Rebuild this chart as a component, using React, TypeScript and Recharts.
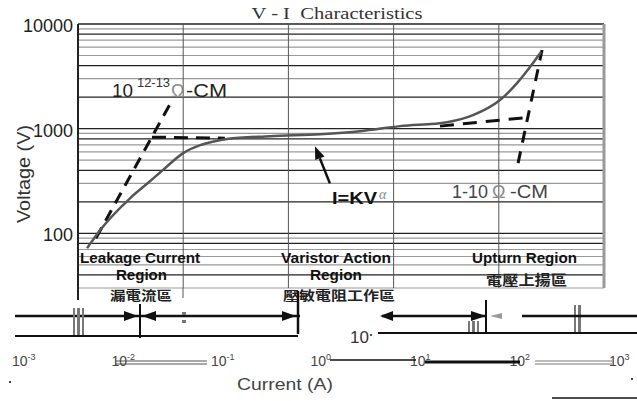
import { ComposedChart, Line, XAxis, YAxis, ReferenceLine } from "recharts";

// axis ticks and grid values
const voltTicks = [100, 1000, 10000];
const voltGrid = [
  30, 40, 50, 60, 70, 80, 90, 100, 200, 300, 400, 500, 600, 700, 800, 900, 1000,
  2000, 3000, 4000, 5000, 6000, 7000, 8000, 9000, 10000,
];
const currentGrid = [1e-5, 1e-4, 1e-3, 1e-2, 1e-1, 1];
const lowerTicks = [1e-3, 1e-2, 1e-1, 1, 10, 100, 1000];

// varistor V-I curve (solid)
const curveCurrent = [
  1.22e-5, 1.62e-5, 3.12e-5, 4.83e-5, 6.71e-5, 1.0e-4, 1.45e-4, 2.0e-4, 2.61e-4, 6.7e-4,
  2.0e-3, 4.8e-3, 0.0115, 0.0322, 0.0569, 0.1026, 0.149, 0.198, 0.252,
];
const curveVoltage = [
  72, 107, 216, 314, 419, 583, 695, 759, 795, 847, 886, 946, 1057, 1153, 1346, 1875, 2723,
  3881, 5396,
];

// dashed asymptotes
const leakCurrent = [1.48e-5, 7.49e-5];
const leakVoltage = [89.6, 1714];
const kneeCurrent = [5.05e-5, 2.49e-4];
const kneeVoltage = [829, 811];
const upturnCurrent = [0.1525, 0.2577];
const upturnVoltage = [468, 5641];
const bendCurrent = [0.0276, 0.198];
const bendVoltage = [1057, 1288];

// pointer from "I=KV^a" label to the curve
const pointerCurrent = [2.48e-3, 1.79e-3];
const pointerVoltage = [300, 680];

const zip = (xs: number[], ys: number[]) => xs.map((i, k) => ({ i, v: ys[k] }));

const SANS = "'Liberation Sans', Arial, sans-serif";
const CJK = "'Noto Sans CJK TC', 'Noto Sans CJK SC', sans-serif";

const sup = (n: number) => String(Math.round(Math.log10(n)));

const ArrowShape = (p: any) => {
  const { x1, y1, x2, y2 } = p;
  const ang = Math.atan2(y2 - y1, x2 - x1);
  const L = 13;
  const W = 5;
  const bx = x2 - L * Math.cos(ang);
  const by = y2 - L * Math.sin(ang);
  const px = -Math.sin(ang) * W;
  const py = Math.cos(ang) * W;
  return (
    <g>
      <line x1={x1} y1={y1} x2={bx} y2={by} stroke="#111" strokeWidth={2.5} />
      <polygon points={`${x2},${y2} ${bx + px},${by + py} ${bx - px},${by - py}`} fill="#111" />
    </g>
  );
};

const VoltTick = ({ x, y, payload }: any) => (
  <text x={x} y={y + 8} textAnchor="end" fontFamily={SANS} fontSize={18} fill="#222">
    {payload.value}
  </text>
);

const LowerTick = ({ x, y, payload }: any) => (
  <text x={x - 8} y={y + 36} fontFamily={SANS} fontSize={14} fill="#444">
    10
    <tspan dy={-6} fontSize={9}>
      {sup(payload.value)}
    </tspan>
  </text>
);

const isDark = (v: number) => {
  const m = Math.round(v / Math.pow(10, Math.floor(Math.log10(v) + 1e-9)));
  return [1, 2, 4, 8].includes(m);
};

export default function App() {
  return (
    <div style={{ position: "absolute", left: 0, top: 0, width: 637, height: 401, background: "#fff", overflow: "hidden" }}>
      <div style={{ position: "absolute", left: 0, top: 0 }}>
        <ComposedChart width={637} height={401} margin={{ top: 24, right: 33, bottom: 113, left: 18 }}>
          <XAxis dataKey="i" type="number" scale="log" domain={[1e-5, 1]} allowDataOverflow hide />
          <YAxis
            dataKey="v"
            type="number"
            scale="log"
            domain={[30, 10000]}
            allowDataOverflow
            ticks={voltTicks}
            width={60}
            axisLine={false}
            tickLine={false}
            tickSize={0}
            tickMargin={5}
            tick={<VoltTick />}
          />
          {voltGrid.map((v) => (
            <ReferenceLine
              key={"h" + v}
              y={v}
              stroke={isDark(v) ? "#222" : "#9a9a9a"}
              strokeWidth={isDark(v) ? 1.3 : 1.2}
            />
          ))}
          {currentGrid.map((c, k) => (
            <ReferenceLine
              key={"v" + c}
              x={c}
              stroke={k === 0 ? "#222" : k === currentGrid.length - 1 ? "#999" : "#555"}
              strokeWidth={k === 0 ? 2 : k === currentGrid.length - 1 ? 3 : 1}
            />
          ))}
          <Line data={zip(leakCurrent, leakVoltage)} dataKey="v" type="linear" stroke="#111" strokeWidth={3} strokeDasharray="12 8" dot={false} isAnimationActive={false} />
          <Line data={zip(kneeCurrent, kneeVoltage)} dataKey="v" type="linear" stroke="#111" strokeWidth={3} strokeDasharray="14 8" dot={false} isAnimationActive={false} />
          <Line data={zip(upturnCurrent, upturnVoltage)} dataKey="v" type="linear" stroke="#111" strokeWidth={3} strokeDasharray="12 9" dot={false} isAnimationActive={false} />
          <Line data={zip(bendCurrent, bendVoltage)} dataKey="v" type="linear" stroke="#111" strokeWidth={3} strokeDasharray="14 9" dot={false} isAnimationActive={false} />
          <Line data={zip(curveCurrent, curveVoltage)} dataKey="v" type="monotone" stroke="#555" strokeWidth={2.5} dot={false} isAnimationActive={false} />
          <ReferenceLine
            segment={[
              { x: pointerCurrent[0], y: pointerVoltage[0] },
              { x: pointerCurrent[1], y: pointerVoltage[1] },
            ]}
            shape={ArrowShape}
          />
        </ComposedChart>
      </div>

      <div style={{ position: "absolute", left: 0, top: 0 }}>
        <ComposedChart width={637} height={401} margin={{ top: 300, right: 20, bottom: 41, left: 20 }}>
          <XAxis
            dataKey="i"
            type="number"
            scale="log"
            domain={[1e-3, 1e3]}
            allowDataOverflow
            ticks={lowerTicks}
            height={30}
            axisLine={false}
            tickLine={false}
            tickSize={0}
            tickMargin={0}
            tick={<LowerTick />}
          />
          <YAxis type="number" domain={[0, 1]} hide />
        </ComposedChart>
      </div>

      <svg width={637} height={401} style={{ position: "absolute", left: 0, top: 0, pointerEvents: "none" }}>
        <text x={337} y={19} textAnchor="middle" fontFamily="'Liberation Serif', serif" fontSize={17} fill="#333" textLength={171} lengthAdjust="spacingAndGlyphs">
          {"V - I\u00a0 Characteristics"}
        </text>
        <text transform="translate(30,174) rotate(-90)" textAnchor="middle" fontFamily={SANS} fontSize={18} fill="#333" textLength={98} lengthAdjust="spacingAndGlyphs">
          Voltage (V)
        </text>

        {/* resistivity annotations */}
        <text x={112} y={97} fontFamily={SANS} fontSize={19} fill="#222" textLength={21} lengthAdjust="spacingAndGlyphs">10</text>
        <text x={137} y={87} fontFamily={SANS} fontSize={12} fill="#333" textLength={33} lengthAdjust="spacingAndGlyphs">12-13</text>
        <text x={171} y={97} fontFamily={SANS} fontSize={18} fill="#888">Ω</text>
        <text x={186} y={97} fontFamily={SANS} fontSize={19} fill="#222" textLength={41} lengthAdjust="spacingAndGlyphs">-CM</text>

        <text x={332} y={204} fontFamily={SANS} fontSize={17} fontWeight="bold" fill="#111" textLength={45} lengthAdjust="spacingAndGlyphs">I=KV</text>
        <text x={379} y={199} fontFamily="'Liberation Serif', serif" fontStyle="italic" fontSize={14} fill="#888">α</text>

        <text x={452} y={198} fontFamily={SANS} fontSize={18} fill="#444" textLength={36} lengthAdjust="spacingAndGlyphs">1-10</text>
        <text x={492} y={198} fontFamily={SANS} fontSize={18} fill="#888">Ω</text>
        <text x={510} y={198} fontFamily={SANS} fontSize={18} fill="#444" textLength={38} lengthAdjust="spacingAndGlyphs">-CM</text>

        {/* region labels */}
        <g fontFamily={SANS} fontSize={14} fontWeight="bold" fill="#111">
          <text x={80} y={263} textLength={120} lengthAdjust="spacingAndGlyphs">Leakage Current</text>
          <text x={116} y={280} textLength={51} lengthAdjust="spacingAndGlyphs">Region</text>
          <text x={281} y={263} textLength={110} lengthAdjust="spacingAndGlyphs">Varistor Action</text>
          <text x={310} y={280} textLength={52} lengthAdjust="spacingAndGlyphs">Region</text>
          <text x={472} y={263} textLength={105} lengthAdjust="spacingAndGlyphs">Upturn Region</text>
        </g>
        <g fontFamily={CJK} fontWeight="bold" fill="#222">
          <text x={110} y={300} fontSize={13} textLength={62} lengthAdjust="spacingAndGlyphs">漏電流區</text>
          <text x={283} y={300} fontSize={13} textLength={112} lengthAdjust="spacingAndGlyphs">壓敏電阻工作區</text>
          <text x={486} y={285} fontSize={14} textLength={81} lengthAdjust="spacingAndGlyphs">電壓上揚區</text>
        </g>

        {/* lower scale fragments */}
        <line x1={78} y1={288} x2={78} y2={300} stroke="#222" strokeWidth={2} />
        <line x1={183} y1={288} x2={183} y2={298} stroke="#555" strokeWidth={1} />
        <line x1={15} y1={316} x2={300} y2={316} stroke="#111" strokeWidth={2.5} />
        <polygon points="138,316 124,311 124,321" fill="#111" />
        <polygon points="142,316 156,311 156,321" fill="#111" />
        <polygon points="296,316 282,311 282,321" fill="#111" />
        <line x1={140} y1={304} x2={140} y2={338} stroke="#111" strokeWidth={2} />
        <line x1={298} y1={291} x2={298} y2={334} stroke="#111" strokeWidth={2.5} />
        <line x1={15} y1={336} x2={298} y2={336} stroke="#111" strokeWidth={2} />
        <g fill="#777">
          <rect x={73} y={308} width={2} height={27} />
          <rect x={77} y={308} width={3} height={27} />
          <rect x={82} y={308} width={2} height={27} />
          <rect x={182} y={312} width={4} height={3} />
          <rect x={182} y={320} width={4} height={3} />
          <rect x={468} y={321} width={2} height={12} />
          <rect x={472} y={321} width={3} height={12} />
          <rect x={477} y={321} width={2} height={12} />
          <rect x={574} y={305} width={2} height={28} />
          <rect x={578} y={305} width={3} height={28} />
        </g>
        <text x={350} y={343} fontFamily={SANS} fontSize={17} fill="#333">10</text>
        <rect x={370} y={334} width={2} height={2} fill="#555" />
        <line x1={378} y1={333} x2={637} y2={333} stroke="#111" strokeWidth={2} />
        <line x1={382} y1={316} x2={486} y2={316} stroke="#111" strokeWidth={2.5} />
        <polygon points="380,316 393,311 393,321" fill="#111" />
        <polygon points="486,316 471,311 471,321" fill="#111" />
        <polygon points="490,316 502,313 502,319" fill="#999" />
        <line x1={486} y1={300} x2={486} y2={333} stroke="#111" strokeWidth={2} />
        <line x1={522} y1={316} x2={637} y2={316} stroke="#111" strokeWidth={2.5} />

        <line x1={115} y1={361} x2={207} y2={361} stroke="#555" strokeWidth={1.2} />
        <line x1={115} y1={364} x2={207} y2={364} stroke="#555" strokeWidth={1.2} />
        <line x1={330} y1={360} x2={416} y2={360} stroke="#111" strokeWidth={1.5} />
        <line x1={425} y1={362} x2={520} y2={362} stroke="#111" strokeWidth={3} />
        <line x1={535} y1={361} x2={612} y2={361} stroke="#777" strokeWidth={1} />
        <line x1={535} y1={364} x2={612} y2={364} stroke="#777" strokeWidth={1} />

        <text x={237} y={390} fontFamily={SANS} fontSize={17} fill="#444" textLength={96} lengthAdjust="spacingAndGlyphs">Current (A)</text>
        <rect x={9} y={381} width={2} height={2} fill="#444" />
        <rect x={631} y={378} width={2} height={2} fill="#444" />
        <line x1={552} y1={398} x2={637} y2={398} stroke="#111" strokeWidth={1.5} />
      </svg>
    </div>
  );
}
